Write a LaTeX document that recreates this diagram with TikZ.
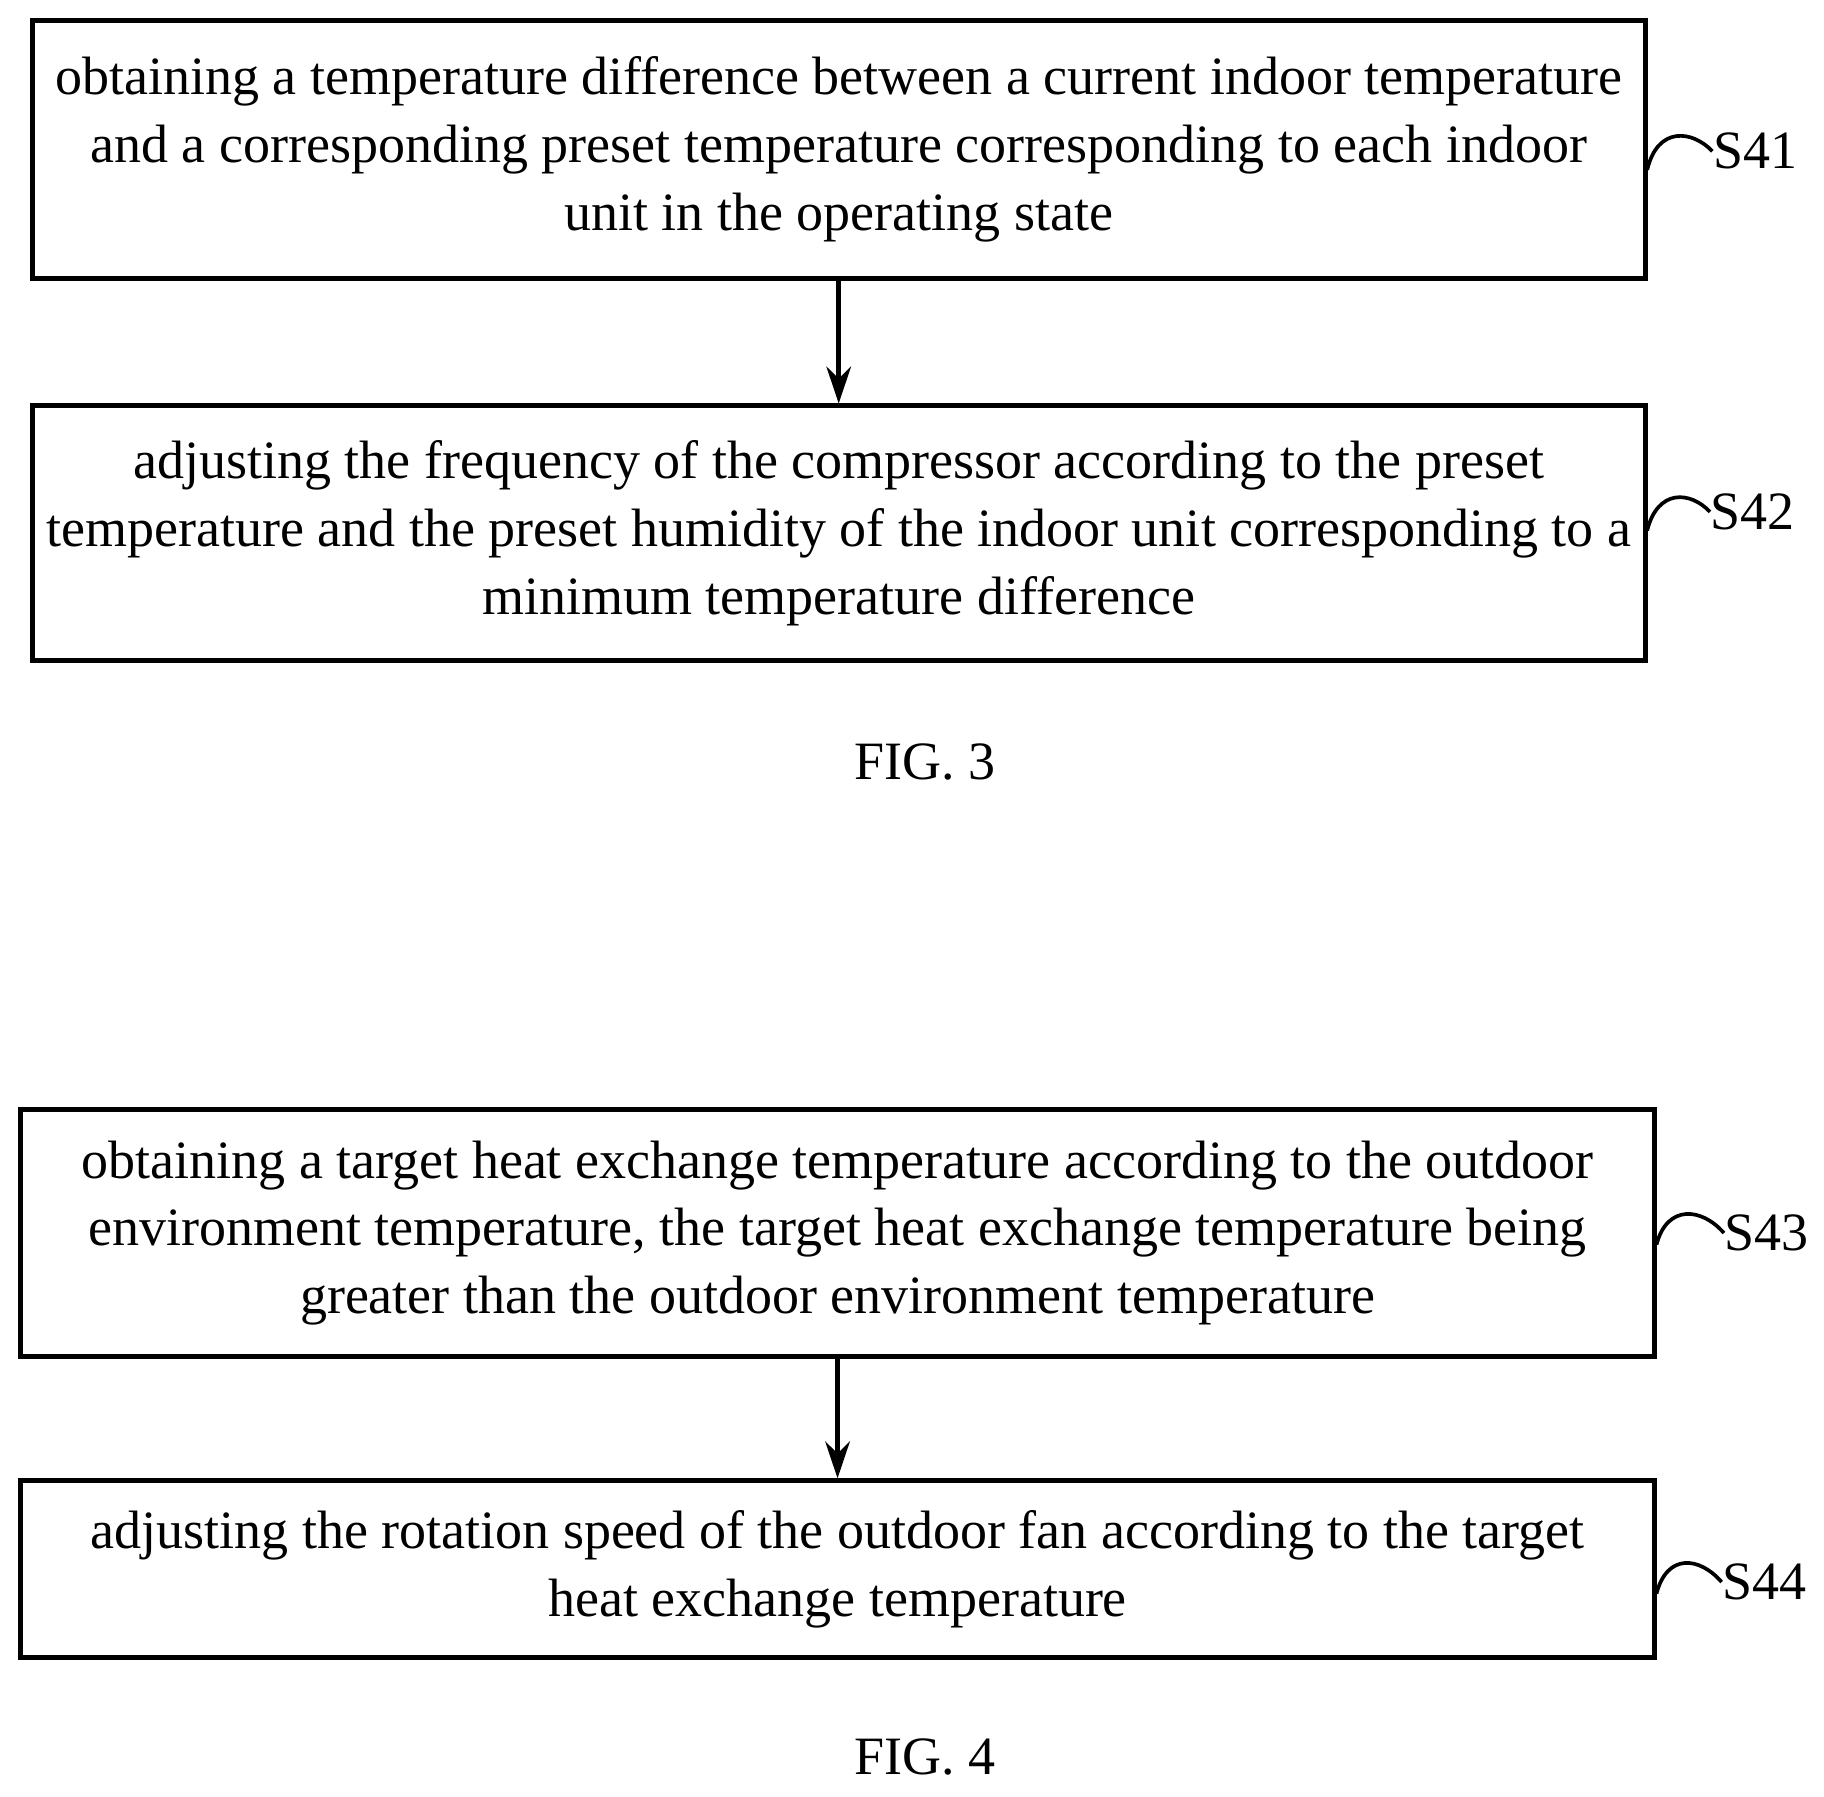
\documentclass[tikz,border=0pt]{standalone}
\usepackage{fontspec}
\setmainfont{Liberation Serif}
\usetikzlibrary{arrows.meta}
\begin{document}
\begin{tikzpicture}[x=0.01cm,y=-0.01cm,
  stepbox/.style={draw,line width=1.2pt,inner sep=0pt,font=\fontsize{13.2}{16.6}\selectfont,align=center},
  lbl/.style={font=\fontsize{13.2}{16}\selectfont,anchor=west,inner sep=0pt},
  squig/.style={line width=0.9pt},
  arr/.style={line width=1.2pt,-{Stealth[length=9pt,width=6pt]}}]
\useasboundingbox (0,0) rectangle (1568,1544);
\node[stepbox,minimum width=13.86cm,minimum height=2.21cm] (b1) at (721,128.5) {obtaining a temperature difference between a current indoor temperature\\and a corresponding preset temperature corresponding to each indoor\\unit in the operating state};
\node[stepbox,minimum width=13.86cm,minimum height=2.19cm] (b2) at (721,458.5) {adjusting the frequency of the compressor according to the preset\\temperature and the preset humidity of the indoor unit corresponding to a\\minimum temperature difference};
\draw[arr] (b1) -- (b2);
\node[font=\fontsize{13.2}{16}\selectfont] (f3) at (795,655) {FIG. 3};
\node[stepbox,minimum width=14.04cm,minimum height=2.12cm] (b3) at (720,1060) {obtaining a target heat exchange temperature according to the outdoor\\environment temperature, the target heat exchange temperature being\\greater than the outdoor environment temperature};
\node[stepbox,minimum width=14.04cm,minimum height=1.52cm] (b4) at (720,1349) {adjusting the rotation speed of the outdoor fan according to the target\\heat exchange temperature};
\draw[arr] (b3) -- (b4);
\node[font=\fontsize{13.2}{16}\selectfont] (f4) at (795,1510) {FIG. 4};
\node[lbl] (s41) at (1472,130) {S41};
\node[lbl] (s42) at (1470,440) {S42};
\node[lbl] (s43) at (1482,1060) {S43};
\node[lbl] (s44) at (1480,1360) {S44};
\coordinate (c1) at (1416,146); \coordinate (c2) at (1416,456);
\coordinate (c3) at (1424,1070); \coordinate (c4) at (1424,1370);
\draw[squig] (c1) .. controls (1425,108) and (1455,112) .. (s41.west);
\draw[squig] (c2) .. controls (1425,420) and (1453,422) .. (s42.west);
\draw[squig] (c3) .. controls (1433,1035) and (1463,1038) .. (s43.west);
\draw[squig] (c4) .. controls (1433,1335) and (1461,1338) .. (s44.west);
\end{tikzpicture}
\end{document}
